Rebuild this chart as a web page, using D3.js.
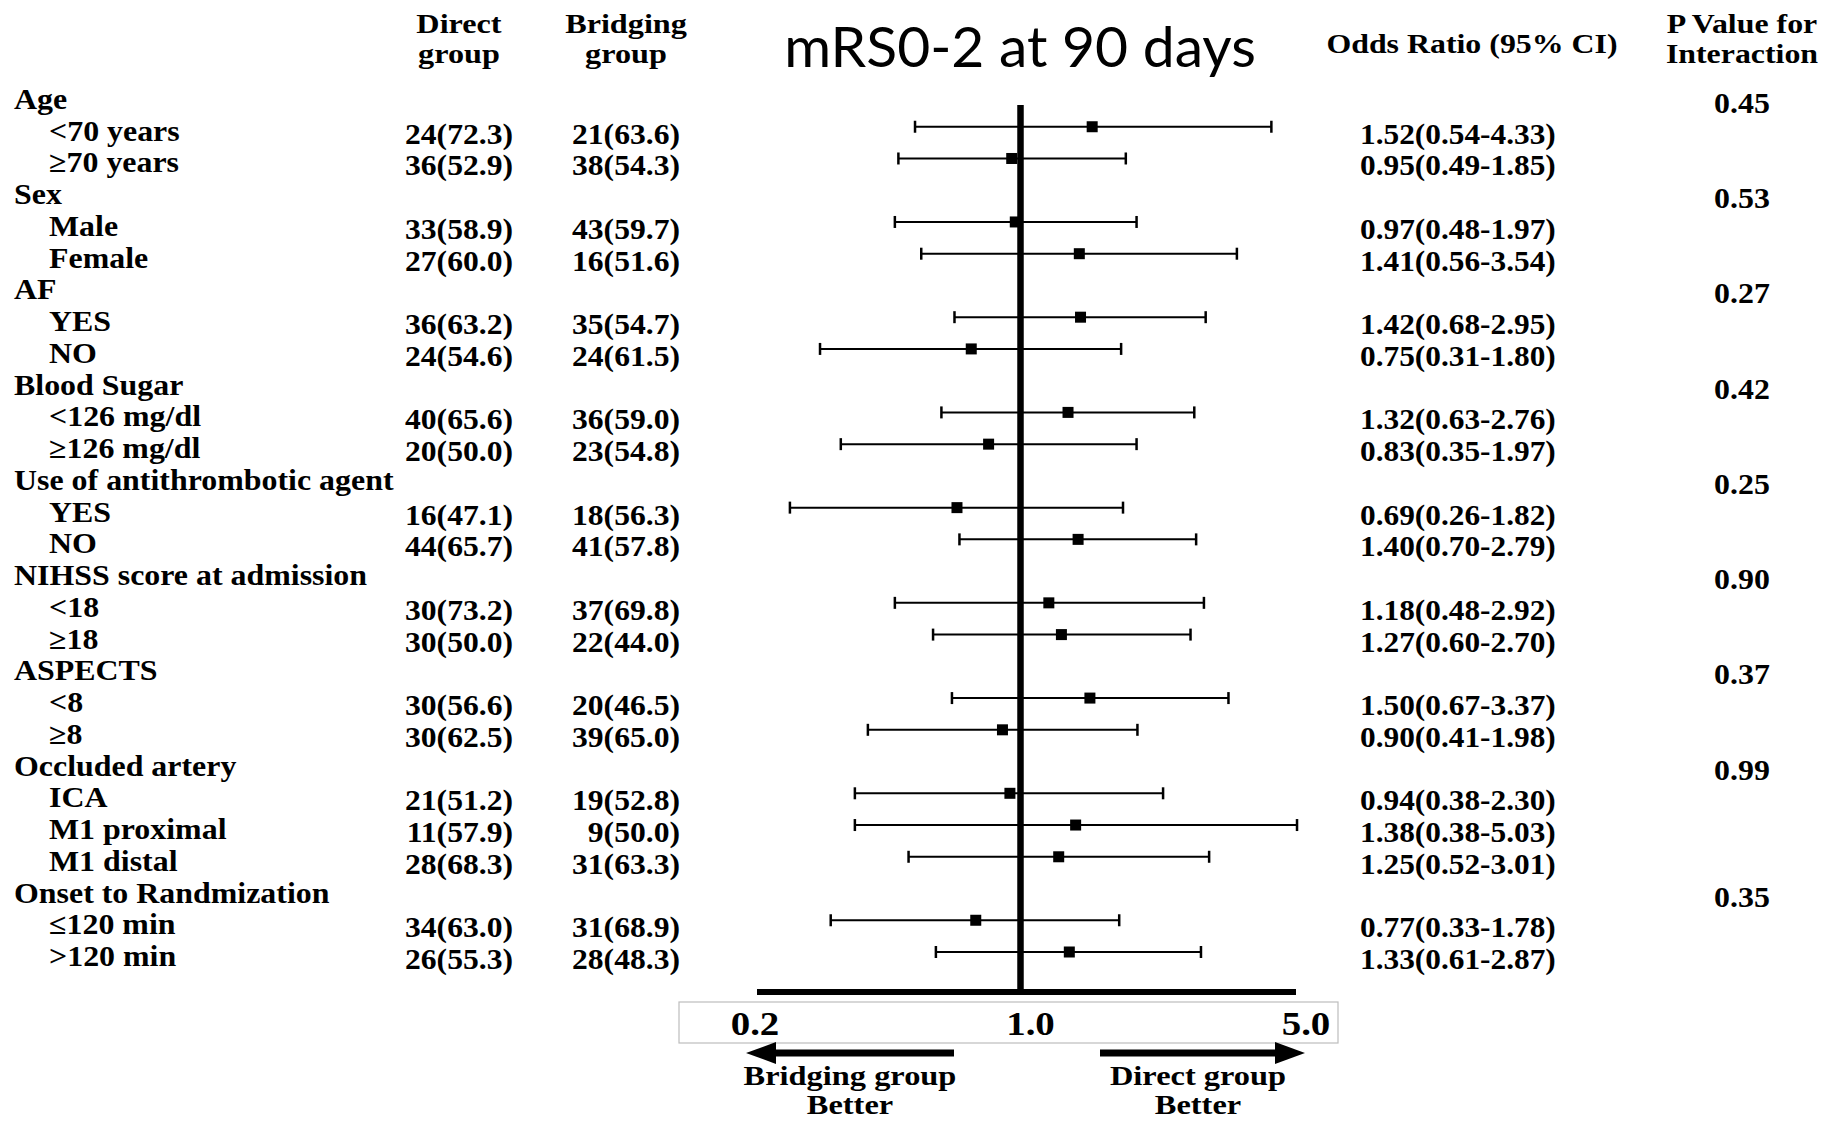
<!DOCTYPE html>
<html>
<head>
<meta charset="utf-8">
<script src="https://cdn.jsdelivr.net/npm/d3@7"></script>
<style>
  html, body { margin: 0; padding: 0; background: #fff; }
  svg { display: block; }
  .tx { font-family: "Liberation Serif", "Times New Roman", serif; font-weight: bold; fill: #000; }
</style>
</head>
<body>
<div id="chart"></div>
<script>
// subgroup headers and interaction p values
const groups = ["Age", "Sex", "AF", "Blood Sugar", "Use of antithrombotic agent",
  "NIHSS score at admission", "ASPECTS", "Occluded artery", "Onset to Randmization"];
const pValues = ["0.45", "0.53", "0.27", "0.42", "0.25", "0.90", "0.37", "0.99", "0.35"];

// subgroup rows
const subLabels = ["<70 years", "\u226570 years", "Male", "Female", "YES", "NO",
  "<126 mg/dl", "\u2265126 mg/dl", "YES", "NO", "<18", "\u226518", "<8", "\u22658",
  "ICA", "M1 proximal", "M1 distal", "\u2264120 min", ">120 min"];
const subGroupIdx = [0, 0, 1, 1, 2, 2, 3, 3, 4, 4, 5, 5, 6, 6, 7, 7, 7, 8, 8];

const directN = [24, 36, 33, 27, 36, 24, 40, 20, 16, 44, 30, 30, 30, 30, 21, 11, 28, 34, 26];
const directPct = [72.3, 52.9, 58.9, 60.0, 63.2, 54.6, 65.6, 50.0, 47.1, 65.7, 73.2, 50.0, 56.6, 62.5, 51.2, 57.9, 68.3, 63.0, 55.3];
const bridgingN = [21, 38, 43, 16, 35, 24, 36, 23, 18, 41, 37, 22, 20, 39, 19, 9, 31, 31, 28];
const bridgingPct = [63.6, 54.3, 59.7, 51.6, 54.7, 61.5, 59.0, 54.8, 56.3, 57.8, 69.8, 44.0, 46.5, 65.0, 52.8, 50.0, 63.3, 68.9, 48.3];

const oddsRatio = [1.52, 0.95, 0.97, 1.41, 1.42, 0.75, 1.32, 0.83, 0.69, 1.40, 1.18, 1.27, 1.50, 0.90, 0.94, 1.38, 1.25, 0.77, 1.33];
const ciLow = [0.54, 0.49, 0.48, 0.56, 0.68, 0.31, 0.63, 0.35, 0.26, 0.70, 0.48, 0.60, 0.67, 0.41, 0.38, 0.38, 0.52, 0.33, 0.61];
const ciHigh = [4.33, 1.85, 1.97, 3.54, 2.95, 1.80, 2.76, 1.97, 1.82, 2.79, 2.92, 2.70, 3.37, 1.98, 2.30, 5.03, 3.01, 1.78, 2.87];

const axisTicks = [0.2, 1.0, 5.0];

const width = 1824, height = 1123;
const f1 = d3.format(".1f"), f2 = d3.format(".2f");

// build the row table: header row, then its subgroups
let rows = [];
groups.forEach((g, gi) => {
  rows.push({ type: "head", label: g, p: pValues[gi] });
  subLabels.forEach((s, i) => {
    if (subGroupIdx[i] === gi) {
      rows.push({
        type: "sub", label: s,
        direct: `${directN[i]}(${f1(directPct[i])})`,
        bridging: `${bridgingN[i]}(${f1(bridgingPct[i])})`,
        or: oddsRatio[i], lo: ciLow[i], hi: ciHigh[i]
      });
    }
  });
});

const svg = d3.select("#chart").append("svg")
  .attr("width", width)
  .attr("height", height);

// the source picture is a little wider than the font, so widen text to match
function widen(sel, k) {
  sel.each(function() {
    let len = this.getComputedTextLength();
    d3.select(this)
      .attr("textLength", len * k)
      .attr("lengthAdjust", "spacingAndGlyphs");
  });
}

let y = d3.scalePoint()
  .domain(d3.range(rows.length))
  .range([99, 956]);

let x = d3.scaleLog()
  .domain([0.2, 5])
  .range([745, 1296]);

// column headers
function header(lines, cx, cy, size, k, gap) {
  let t = svg.append("text")
    .attr("class", "tx")
    .attr("text-anchor", "middle")
    .style("font-size", size + "px")
    .selectAll("tspan")
    .data(lines)
    .enter().append("tspan")
      .attr("x", cx)
      .attr("y", (d, i) => cy + i * (gap || 30))
      .text(d => d);
  widen(t, k);
}
header(["Direct", "group"], 459, 33, 28, 1.15);
header(["Bridging", "group"], 626, 33, 28, 1.15);
header(["Odds Ratio (95% CI)"], 1472, 53, 27, 1.18);
header(["P Value for", "Interaction"], 1742, 33, 27, 1.18);

svg.append("text")
  .attr("text-anchor", "middle")
  .attr("x", 1020)
  .attr("y", 67)
  .style("font-family", "Lato, 'Open Sans', sans-serif")
  .style("font-size", "57px")
  .text("mRS0-2 at 90 days");

// row labels
const rowFont = 29;
let rowG = svg.append("g")
  .attr("class", "tx")
  .style("font-size", rowFont + "px");

let labels = rowG.selectAll("text.label")
  .data(rows)
  .enter().append("text")
    .attr("class", "label")
    .attr("x", d => d.type === "head" ? 14 : 49)
    .attr("y", (d, i) => y(i) + 10)
    .text(d => d.label);
widen(labels, 1.1);

let subRows = rows.map((d, i) => Object.assign({ idx: i }, d)).filter(d => d.type === "sub");
let headRows = rows.map((d, i) => Object.assign({ idx: i }, d)).filter(d => d.type === "head");

let direct = rowG.selectAll("text.direct")
  .data(subRows)
  .enter().append("text")
    .attr("class", "direct")
    .attr("text-anchor", "end")
    .attr("x", 513)
    .attr("y", d => y(d.idx) + 13)
    .text(d => d.direct);
widen(direct, 1.09);

let bridging = rowG.selectAll("text.bridging")
  .data(subRows)
  .enter().append("text")
    .attr("class", "bridging")
    .attr("text-anchor", "end")
    .attr("x", 680)
    .attr("y", d => y(d.idx) + 13)
    .text(d => d.bridging);
widen(bridging, 1.09);

let orText = rowG.selectAll("text.ortext")
  .data(subRows)
  .enter().append("text")
    .attr("class", "ortext")
    .attr("x", 1360)
    .attr("y", d => y(d.idx) + 13)
    .text(d => `${f2(d.or)}(${f2(d.lo)}-${f2(d.hi)})`);
widen(orText, 1.08);

let pText = rowG.selectAll("text.pval")
  .data(headRows)
  .enter().append("text")
    .attr("class", "pval")
    .attr("text-anchor", "middle")
    .attr("x", 1742)
    .attr("y", d => y(d.idx) + 14)
    .text(d => d.p);
widen(pText, 1.1);

// reference line at OR = 1
const axisY = 992;
svg.append("line")
  .attr("x1", x(1)).attr("x2", x(1))
  .attr("y1", 105).attr("y2", axisY)
  .attr("stroke", "#000")
  .attr("stroke-width", 6.5);

// confidence intervals
let ci = svg.append("g")
  .selectAll("g")
  .data(subRows)
  .enter().append("g")
    .attr("transform", d => `translate(0,${y(d.idx) - 4})`);

ci.append("line")
  .attr("x1", d => x(d.lo)).attr("x2", d => x(d.hi))
  .attr("stroke", "#000").attr("stroke-width", 2);

ci.append("line")
  .attr("x1", d => x(d.lo)).attr("x2", d => x(d.lo))
  .attr("y1", -6).attr("y2", 6)
  .attr("stroke", "#000").attr("stroke-width", 2.5);

ci.append("line")
  .attr("x1", d => x(d.hi)).attr("x2", d => x(d.hi))
  .attr("y1", -6).attr("y2", 6)
  .attr("stroke", "#000").attr("stroke-width", 2.5);

ci.append("rect")
  .attr("x", d => x(d.or) - 5.5)
  .attr("y", -5.5)
  .attr("width", 11)
  .attr("height", 11)
  .attr("fill", "#000");

// x axis
svg.append("line")
  .attr("x1", x(0.2) + 12).attr("x2", x(5))
  .attr("y1", axisY).attr("y2", axisY)
  .attr("stroke", "#000")
  .attr("stroke-width", 6);

svg.append("rect")
  .attr("x", 679).attr("y", 1002)
  .attr("width", 659).attr("height", 41)
  .attr("fill", "none")
  .attr("stroke", "#bdbdbd")
  .attr("stroke-width", 1.2);

let tickText = svg.append("g")
  .attr("class", "tx")
  .style("font-size", "33px")
  .selectAll("text")
  .data(axisTicks)
  .enter().append("text")
    .attr("text-anchor", "middle")
    .attr("x", d => x(d) + 10)
    .attr("y", 1035)
    .text(d => d3.format(".1f")(d));
widen(tickText, 1.18);

// direction arrows
const arrowY = 1053;
function arrow(xFrom, xTo) {
  let dir = xTo > xFrom ? 1 : -1;
  svg.append("line")
    .attr("x1", xFrom).attr("x2", xTo - dir * 26)
    .attr("y1", arrowY).attr("y2", arrowY)
    .attr("stroke", "#000")
    .attr("stroke-width", 7);
  svg.append("path")
    .attr("d", `M${xTo},${arrowY} L${xTo - dir * 30},${arrowY - 11} L${xTo - dir * 30},${arrowY + 11} Z`)
    .attr("fill", "#000");
}
arrow(954, 746);
arrow(1100, 1305);

header(["Bridging group", "Better"], 850, 1085, 27, 1.2, 29);
header(["Direct group", "Better"], 1198, 1085, 27, 1.2, 29);
</script>
</body>
</html>
